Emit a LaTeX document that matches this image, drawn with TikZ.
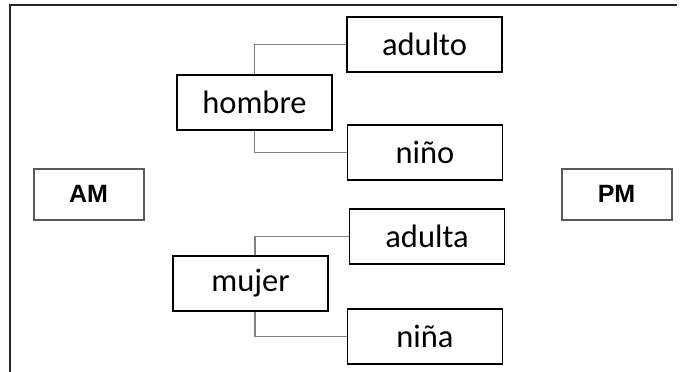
\documentclass[tikz,border=0pt]{standalone}
\usepackage{fontspec}
\setmainfont{Carlito}
\newfontfamily\labelfont{Liberation Sans}
\usetikzlibrary{positioning}

\begin{document}
\begin{tikzpicture}[x=1pt,y=-1pt,
        box/.style={draw,fill=white,line width=1.8pt,minimum width=155pt,minimum height=55pt,
            inner sep=0pt,font=\fontsize{32.5}{38}\selectfont},
        time/.style={draw=black!65,fill=white,line width=2pt,minimum width=110pt,minimum height=51pt,
            inner sep=0pt,font=\labelfont\bfseries\fontsize{25}{28}\selectfont},
        link/.style={draw=black!50,line width=1.8pt}]

    \useasboundingbox (0,0) rectangle (680,372);

    % frame
    \draw[line width=1.5pt,black!85] (10,372) -- (10,5) -- (677,5);

    \node[time] (am) at (88.5,194) {AM};
    \node[time] (pm) at (616.5,194) {PM};

    % hombre
    \node[box] (adulto) at (424.5,44.5) {adulto};
    \node[box] (nino) at (425,152.5) {niño};
    \coordinate (hm) at (254.5,102.5);
    \draw[link] (adulto.west) -| (hm) |- (nino.west);
    \node[box] (hombre) at (hm) {hombre};

    % mujer
    \node[box] (adulta) at (427,236.5) {adulta};
    \node[box] (nina) at (425,336.5) {niña};
    \coordinate (mj) at (255,283.5);
    \draw[link] (adulta.west) -| (mj) |- (nina.west);
    \node[box] (mujer) at (250.5,283.5) {mujer};
\end{tikzpicture}
\end{document}
